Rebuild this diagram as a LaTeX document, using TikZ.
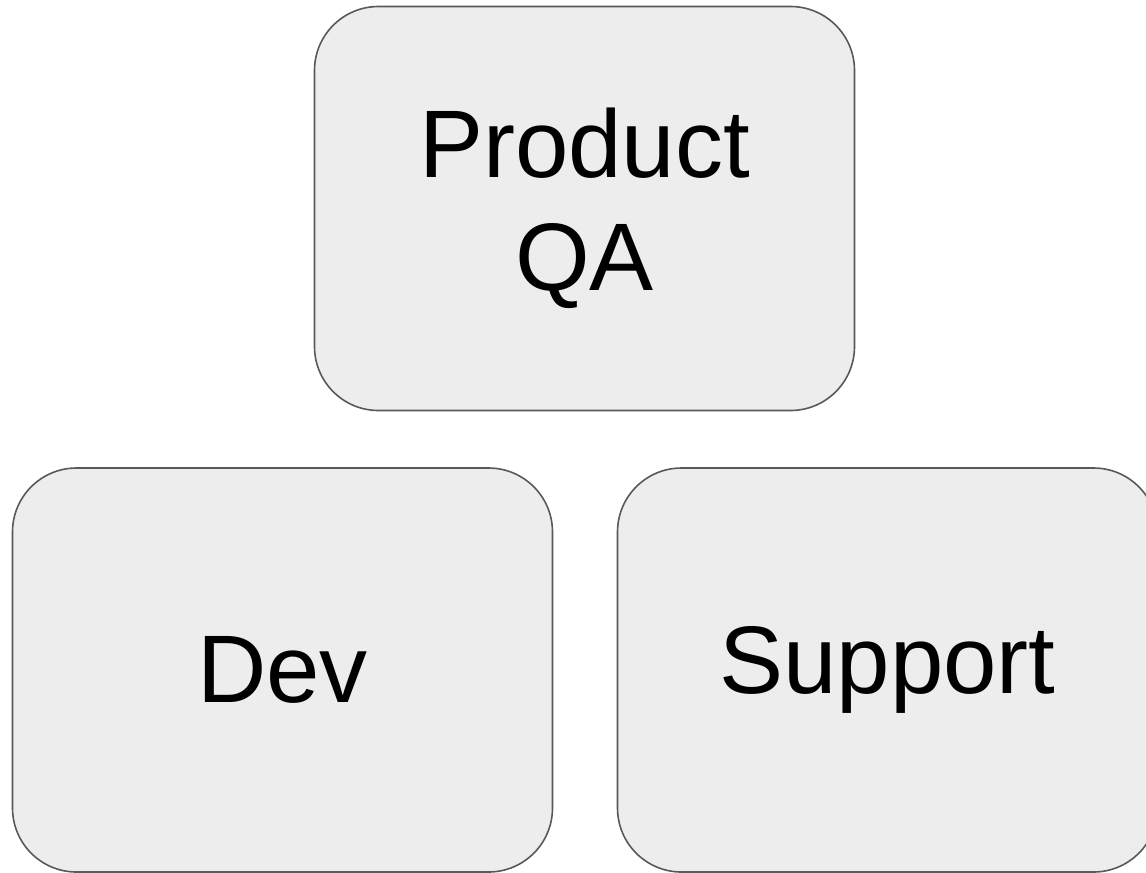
\documentclass[tikz,border=0pt]{standalone}
\usepackage{fontspec}
\setmainfont{Liberation Sans}
\usetikzlibrary{positioning}

\begin{document}
\begin{tikzpicture}[x=0.75pt, y=-0.75pt,
    box/.style={draw=black!65, fill=black!7, line width=1.2pt, rounded corners=48pt,
        minimum width=405pt, minimum height=303pt, align=center,
        font=\fontsize{72}{85}\selectfont}]
    \useasboundingbox (0,0) rectangle (1146,872);
    \node[box] (qa) at (584.5,208.5) {Product\\QA};
    \node[box] (dev) at (282.5,670) {Dev};
    \node[box] (support) at (887.5,670) {Support};
\end{tikzpicture}
\end{document}
